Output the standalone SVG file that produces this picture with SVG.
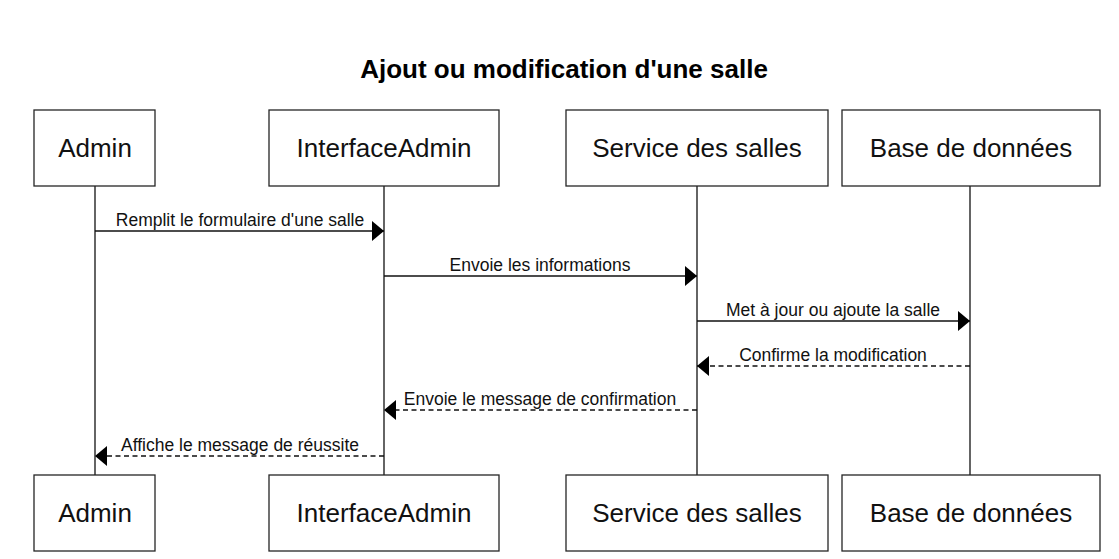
<svg xmlns="http://www.w3.org/2000/svg" width="1119" height="559" viewBox="0 0 1119 559">
  <style>
    .box { fill: #ffffff; stroke: #262626; stroke-width: 1.3; }
    .lbl { font-family: "Liberation Sans", Arial, sans-serif; font-size: 26px; fill: #111; text-anchor: middle; }
    .life { stroke: #111; stroke-width: 1.3; fill: none; }
    .msg { stroke: #111; stroke-width: 1.3; fill: none; marker-end: url(#arrow); }
    .ret { stroke-dasharray: 5 3.5; }
    .mtxt { font-family: "Liberation Sans", Arial, sans-serif; font-size: 17.5px; fill: #111; text-anchor: middle; }
    .title { font-family: "Liberation Sans", Arial, sans-serif; font-size: 26px; font-weight: bold; fill: #000; text-anchor: middle; }
  </style>
  <defs>
    <marker id="arrow" markerUnits="userSpaceOnUse" viewBox="0 0 12 20" refX="12" refY="10" markerWidth="12" markerHeight="20" orient="auto">
      <path d="M0,0 L12,10 L0,20 Z" fill="#000" stroke="none"/>
    </marker>
  </defs>
  <rect width="1119" height="559" fill="#ffffff"/>
  <text class="title" x="564" y="78">Ajout ou modification d'une salle</text>

  <g id="lifelines">
    <line class="life" x1="95" y1="186" x2="95" y2="475"/>
    <line class="life" x1="384" y1="186" x2="384" y2="475"/>
    <line class="life" x1="697" y1="186" x2="697" y2="475"/>
    <line class="life" x1="970" y1="186" x2="970" y2="475"/>
  </g>

  <g id="admin-top"><rect class="box" x="34" y="110" width="121" height="76"/><text class="lbl" x="95" y="157">Admin</text></g>
  <g id="interface-top"><rect class="box" x="269" y="110" width="230" height="76"/><text class="lbl" x="384" y="157">InterfaceAdmin</text></g>
  <g id="service-top"><rect class="box" x="566" y="110" width="262" height="76"/><text class="lbl" x="697" y="157">Service des salles</text></g>
  <g id="bdd-top"><rect class="box" x="842" y="110" width="258" height="76"/><text class="lbl" x="971" y="157">Base de données</text></g>

  <g id="admin-bottom"><rect class="box" x="34" y="475" width="121" height="76"/><text class="lbl" x="95" y="522">Admin</text></g>
  <g id="interface-bottom"><rect class="box" x="269" y="475" width="230" height="76"/><text class="lbl" x="384" y="522">InterfaceAdmin</text></g>
  <g id="service-bottom"><rect class="box" x="566" y="475" width="262" height="76"/><text class="lbl" x="697" y="522">Service des salles</text></g>
  <g id="bdd-bottom"><rect class="box" x="842" y="475" width="258" height="76"/><text class="lbl" x="971" y="522">Base de données</text></g>

  <g id="connectors">
    <line class="msg" x1="95" y1="231" x2="384" y2="231"/>
    <text class="mtxt" x="240" y="226">Remplit le formulaire d'une salle</text>
    <line class="msg" x1="384" y1="276" x2="697" y2="276"/>
    <text class="mtxt" x="540" y="271">Envoie les informations</text>
    <line class="msg" x1="697" y1="321" x2="970" y2="321"/>
    <text class="mtxt" x="833" y="316">Met à jour ou ajoute la salle</text>
    <line class="msg ret" x1="970" y1="366" x2="697" y2="366"/>
    <text class="mtxt" x="833" y="361">Confirme la modification</text>
    <line class="msg ret" x1="697" y1="410" x2="384" y2="410"/>
    <text class="mtxt" x="540" y="405">Envoie le message de confirmation</text>
    <line class="msg ret" x1="384" y1="456" x2="95" y2="456"/>
    <text class="mtxt" x="240" y="451">Affiche le message de réussite</text>
  </g>
</svg>
